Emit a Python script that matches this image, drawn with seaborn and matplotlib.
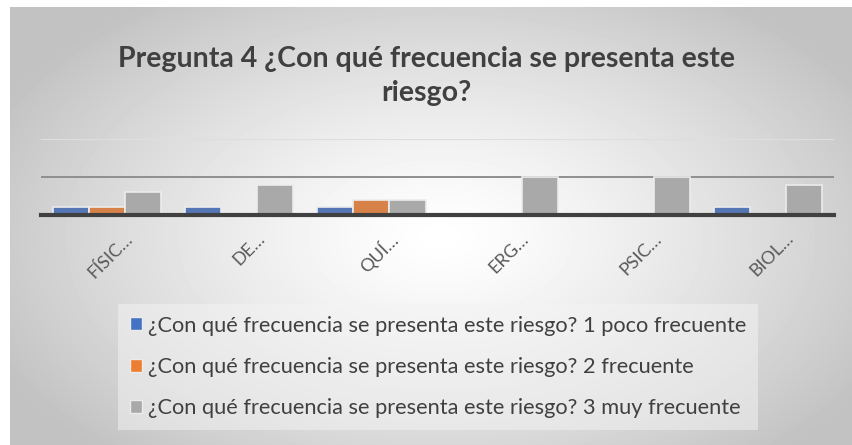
import matplotlib.pyplot as plt
import matplotlib.transforms as mtrans
from matplotlib.patches import Patch
import numpy as np
import pandas as pd
import seaborn as sns

# datos
categorias = ["FÍSIC…", "DE…", "QUÍ…", "ERG…", "PSIC…", "BIOL…"]
series = [
    "¿Con qué frecuencia se presenta este riesgo? 1 poco frecuente",
    "¿Con qué frecuencia se presenta este riesgo? 2 frecuente",
    "¿Con qué frecuencia se presenta este riesgo? 3 muy frecuente",
]
poco_frecuente = [1, 1, 1, 0, 0, 1]
frecuente = [1, 0, 2, 0, 0, 0]
muy_frecuente = [3, 4, 2, 5, 5, 4]
titulo = "Pregunta 4 ¿Con qué frecuencia se presenta este\nriesgo?"

COLORES = ["#4472C4", "#ED7D31", "#A9A9A9"]
TEXTO = "#404040"

sns.set_theme(style="white")
plt.rcParams["font.family"] = ["Lato", "DejaVu Sans"]

df = pd.DataFrame({
    "categoria": categorias * 3,
    "serie": [series[0]] * 6 + [series[1]] * 6 + [series[2]] * 6,
    "valor": poco_frecuente + frecuente + muy_frecuente,
})

W, H = 853, 445
fig = plt.figure(figsize=(W / 100, H / 100), dpi=100)
fig.patch.set_facecolor("white")

# fondo con degradado radial (estilo Excel)
bg = fig.add_axes([10 / W, 0, (W - 10) / W, (H - 7) / H])
yy, xx = np.mgrid[0:438, 0:843]
r = np.sqrt(((xx - 430) / 540) ** 2 + ((yy - 230) / 320) ** 2)
g = np.clip(1 - 0.27 * r ** 1.3, 0.76, 1)
bg.imshow(g, cmap="gray", vmin=0, vmax=1, aspect="auto", interpolation="bilinear")
bg.axis("off")

ax = fig.add_axes([41 / W, (H - 215) / H, (834 - 41) / W, 76 / H])
ax.patch.set_alpha(0)
sns.barplot(data=df, x="categoria", y="valor", hue="serie", palette=COLORES,
            width=0.82, edgecolor="#ececec", linewidth=1.2, legend=False,
            ax=ax, zorder=3)
ax.set_ylim(0, 10)
ax.set_xlim(-0.5, 5.5)
ax.set_yticks([5, 10])
ax.set_yticklabels([])
ax.tick_params(axis="y", length=0)
ax.tick_params(axis="x", length=0, pad=11)
ax.grid(axis="y", zorder=0)
gl = ax.get_ygridlines()
gl[0].set_color("#8f8f8f")
gl[0].set_linewidth(1.4)
gl[1].set_color("#dedede")
gl[1].set_linewidth(1.6)
for s in ["top", "right", "left"]:
    ax.spines[s].set_visible(False)
ax.spines["bottom"].set_color("#404040")
ax.spines["bottom"].set_linewidth(3)
ax.spines["bottom"].set_zorder(4)
ax.set_xlabel("")
ax.set_ylabel("")

off = mtrans.ScaledTranslation(17 / 100, 0, fig.dpi_scale_trans)
for lab in ax.get_xticklabels():
    lab.set_rotation(45)
    lab.set_ha("right")
    lab.set_rotation_mode("anchor")
    lab.set_fontsize(13)
    lab.set_color("#595959")
    lab.set_transform(lab.get_transform() + off)

fig.text(0.5, 1 - 76 / H, titulo, ha="center", va="center", fontsize=20.5,
         fontweight="bold", color=TEXTO, linespacing=1.4)

handles = [Patch(facecolor=c, edgecolor="#ececec") for c in COLORES]
leg = fig.legend(handles, series, loc="center", bbox_to_anchor=(438 / W, 1 - 367 / H),
                 ncol=1, frameon=True, fontsize=15.7, labelcolor=TEXTO,
                 handlelength=0.55, handleheight=0.55, handletextpad=0.3,
                 labelspacing=0.98, borderpad=0.55, fancybox=False)
leg.get_frame().set_facecolor("#f4f4f4")
leg.get_frame().set_alpha(0.5)
leg.get_frame().set_edgecolor("none")

fig.savefig("out.png", dpi=100)
